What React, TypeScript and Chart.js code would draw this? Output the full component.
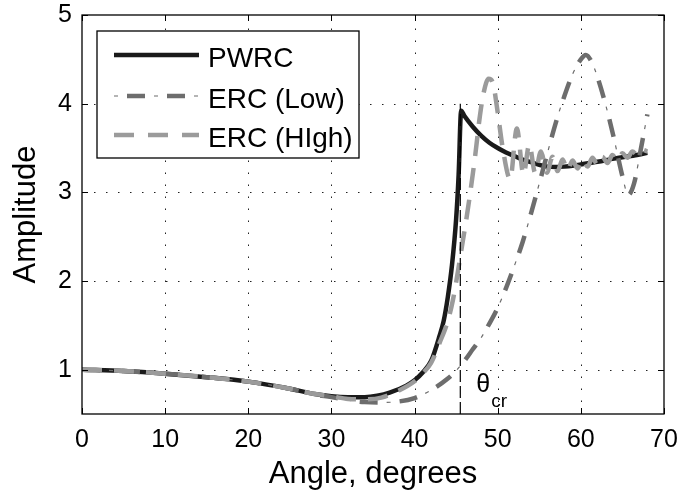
import { useEffect, useRef } from 'react';
import { Chart, registerables } from 'chart.js';

Chart.register(...registerables);

const FONT = '"Liberation Sans", Arial, Helvetica, sans-serif';

// Plane-wave reflection coefficient (solid black)
const pwrcAngle = [0, 5, 10, 15, 20, 25, 28, 30, 32, 34, 35.5, 37, 39, 40, 41, 42, 43, 43.5, 44, 44.5, 45, 45.3, 45.6, 46, 47, 48, 49, 50, 51, 52, 53, 54, 55, 56, 57, 58, 59, 60, 62, 64, 66, 68];
const pwrcAmp = [1.0, 0.985, 0.955, 0.915, 0.865, 0.785, 0.725, 0.7, 0.69, 0.69, 0.705, 0.74, 0.82, 0.88, 0.97, 1.1, 1.38, 1.55, 1.82, 2.18, 2.7, 3.2, 3.92, 3.86, 3.74, 3.64, 3.56, 3.5, 3.45, 3.41, 3.37, 3.34, 3.31, 3.29, 3.285, 3.29, 3.3, 3.315, 3.345, 3.38, 3.41, 3.445];

// Effective reflection coefficient, low frequency (dash-dot, dark grey)
const ercLowAngle = [0, 5, 10, 15, 20, 25, 28, 30, 32, 34, 36, 38, 40, 42, 44, 45, 46, 47, 48, 49, 50, 51, 52, 53, 54, 55, 56, 57, 58, 59, 60, 60.6, 61.3, 62, 63, 64, 65, 65.7, 66.4, 67.2, 68];
const ercLowAmp = [1.0, 0.985, 0.955, 0.915, 0.865, 0.785, 0.72, 0.69, 0.655, 0.635, 0.63, 0.64, 0.68, 0.77, 0.9, 0.99, 1.1, 1.23, 1.36, 1.52, 1.7, 1.92, 2.17, 2.44, 2.76, 3.1, 3.45, 3.79, 4.08, 4.33, 4.5, 4.55, 4.47, 4.3, 3.98, 3.6, 3.18, 2.97, 3.1, 3.48, 3.88];

// Effective reflection coefficient, high frequency (dashed, light grey)
const ercHighAngle = [0, 5, 10, 15, 20, 25, 28, 30, 32, 34, 36, 38, 40, 41, 42, 43, 44, 44.6, 45.2, 45.8, 46.2, 46.7, 47.3, 47.8, 48.3, 48.9, 49.4, 50, 50.6, 51.5, 52.3, 53.1, 53.8, 54.5, 55.2, 55.9, 56.6, 57.2, 57.8, 58.4, 59, 59.6, 60.2, 60.8, 61.4, 62, 62.6, 63.2, 63.8, 64.4, 65, 65.6, 66.2, 66.8, 67.4, 68];
const ercHighAmp = [1.0, 0.985, 0.955, 0.915, 0.865, 0.785, 0.725, 0.7, 0.67, 0.665, 0.685, 0.76, 0.87, 0.96, 1.08, 1.3, 1.55, 1.78, 2.1, 2.45, 2.68, 3.0, 3.42, 3.82, 4.12, 4.28, 4.24, 3.9, 3.5, 3.15, 3.72, 3.2, 3.54, 3.22, 3.46, 3.22, 3.4, 3.24, 3.37, 3.25, 3.36, 3.27, 3.37, 3.29, 3.39, 3.31, 3.4, 3.33, 3.42, 3.36, 3.44, 3.39, 3.46, 3.42, 3.48, 3.46];

// Critical angle marker
const criticalAngle = 45.5;
const criticalTop = 4;

const xTicks = [0, 10, 20, 30, 40, 50, 60, 70];
const yTicks = [1, 2, 3, 4, 5];

const seriesNames = ['PWRC', 'ERC (Low)', 'ERC (HIgh)'];

const BLACK = '#1a1a1a';
const DARK_GREY = '#6d6d6d';
const LIGHT_GREY = '#9b9b9b';

const LOW_DASH = [18, 22];
const LOW_DOT = [4, 36];
const LOW_DOT_OFFSET = 13;
const HIGH_DASH = [20, 12];

const toPoints = (xs: number[], ys: number[]) => xs.map((x, i) => ({ x, y: ys[i] }));

const frameAndDecor = {
  id: 'frameAndDecor',
  beforeDatasetsDraw(chart: any) {
    const { ctx, chartArea: a, scales } = chart;
    const xs = scales.x;
    const ys = scales.y;
    ctx.save();
    ctx.strokeStyle = '#222';
    ctx.lineWidth = 1;
    ctx.setLineDash([1.5, 10.5]);
    xTicks.forEach((v) => {
      const px = Math.round(xs.getPixelForValue(v)) + 0.5;
      if (v === xs.min || v === xs.max) return;
      ctx.beginPath();
      ctx.moveTo(px, a.bottom);
      ctx.lineTo(px, a.top);
      ctx.stroke();
    });
    yTicks.forEach((v) => {
      const py = Math.round(ys.getPixelForValue(v)) + 0.5;
      if (v === ys.max) return;
      ctx.beginPath();
      ctx.moveTo(a.left, py);
      ctx.lineTo(a.right, py);
      ctx.stroke();
    });
    ctx.restore();
  },
  afterDatasetsDraw(chart: any) {
    const { ctx, chartArea: a, scales } = chart;
    const xs = scales.x;
    const ys = scales.y;
    ctx.save();
    ctx.setLineDash([]);
    ctx.strokeStyle = '#000';
    ctx.lineWidth = 1.3;
    ctx.strokeRect(a.left, a.top, a.right - a.left, a.bottom - a.top);

    // inward tick marks on all four sides
    const tl = 6;
    ctx.lineWidth = 1;
    xTicks.forEach((v) => {
      const px = Math.round(xs.getPixelForValue(v)) + 0.5;
      ctx.beginPath();
      ctx.moveTo(px, a.bottom);
      ctx.lineTo(px, a.bottom - tl);
      ctx.moveTo(px, a.top);
      ctx.lineTo(px, a.top + tl);
      ctx.stroke();
    });
    yTicks.forEach((v) => {
      const py = Math.round(ys.getPixelForValue(v)) + 0.5;
      ctx.beginPath();
      ctx.moveTo(a.left, py);
      ctx.lineTo(a.left + tl, py);
      ctx.moveTo(a.right, py);
      ctx.lineTo(a.right - tl, py);
      ctx.stroke();
    });

    // critical angle label
    const cx = xs.getPixelForValue(criticalAngle);
    const cy = ys.getPixelForValue(1);
    ctx.fillStyle = '#000';
    ctx.textBaseline = 'alphabetic';
    ctx.textAlign = 'left';
    ctx.font = `25px ${FONT}`;
    ctx.fillText('θ', cx + 16, cy + 22);
    ctx.font = `19px ${FONT}`;
    ctx.fillText('cr', cx + 31, cy + 37);

    // legend box
    const bx = a.left + 15;
    const by = a.top + 16;
    const bw = 262;
    const bh = 127;
    ctx.fillStyle = '#fff';
    ctx.fillRect(bx, by, bw, bh);
    ctx.strokeStyle = '#000';
    ctx.lineWidth = 1.3;
    ctx.strokeRect(bx, by, bw, bh);

    const lx0 = bx + 17;
    const lx1 = bx + 102;
    const rows = [by + 24, by + 65, by + 104];
    ctx.lineCap = 'butt';

    // PWRC sample
    ctx.strokeStyle = BLACK;
    ctx.lineWidth = 4.5;
    ctx.beginPath();
    ctx.moveTo(lx0, rows[0]);
    ctx.lineTo(lx1, rows[0]);
    ctx.stroke();

    // ERC (Low) sample
    ctx.strokeStyle = DARK_GREY;
    ctx.setLineDash(LOW_DOT);
    ctx.lineDashOffset = 0;
    ctx.lineWidth = 1.2;
    ctx.beginPath();
    ctx.moveTo(lx0, rows[1]);
    ctx.lineTo(lx1, rows[1]);
    ctx.stroke();
    ctx.setLineDash(LOW_DASH);
    ctx.lineDashOffset = -13;
    ctx.lineWidth = 4.5;
    ctx.beginPath();
    ctx.moveTo(lx0, rows[1]);
    ctx.lineTo(lx1, rows[1]);
    ctx.stroke();

    // ERC (HIgh) sample
    ctx.strokeStyle = LIGHT_GREY;
    ctx.setLineDash([20, 14]);
    ctx.lineDashOffset = 0;
    ctx.beginPath();
    ctx.moveTo(lx0, rows[2]);
    ctx.lineTo(lx1, rows[2]);
    ctx.stroke();

    ctx.setLineDash([]);
    ctx.fillStyle = '#000';
    ctx.font = `28px ${FONT}`;
    ctx.textBaseline = 'alphabetic';
    seriesNames.forEach((name, i) => {
      ctx.fillText(name, bx + 111, rows[i] + 12);
    });
    ctx.restore();
  },
};

export default function App() {
  const canvasRef = useRef<HTMLCanvasElement | null>(null);

  useEffect(() => {
    const canvas = canvasRef.current;
    if (!canvas) return;

    const lineCommon = {
      pointRadius: 0,
      fill: false,
      tension: 0.4,
      cubicInterpolationMode: 'monotone' as const,
      borderCapStyle: 'butt' as const,
    };

    const chart = new Chart(canvas, {
      type: 'line',
      data: {
        datasets: [
          {
            ...lineCommon,
            label: seriesNames[0],
            data: toPoints(pwrcAngle, pwrcAmp),
            borderColor: BLACK,
            borderWidth: 4.5,
            order: 3,
          },
          {
            ...lineCommon,
            label: seriesNames[1],
            data: toPoints(ercLowAngle, ercLowAmp),
            borderColor: DARK_GREY,
            borderWidth: 4.5,
            borderDash: LOW_DASH,
            order: 2,
          },
          {
            ...lineCommon,
            label: seriesNames[1] + ' dots',
            data: toPoints(ercLowAngle, ercLowAmp),
            borderColor: DARK_GREY,
            borderWidth: 1.2,
            borderDash: LOW_DOT,
            borderDashOffset: LOW_DOT_OFFSET,
            order: 2,
          },
          {
            ...lineCommon,
            label: seriesNames[2],
            data: toPoints(ercHighAngle, ercHighAmp),
            borderColor: LIGHT_GREY,
            borderWidth: 4.5,
            borderDash: HIGH_DASH,
            order: 1,
          },
          {
            label: 'critical',
            data: [
              { x: criticalAngle, y: 0.5 },
              { x: criticalAngle, y: criticalTop },
            ],
            borderColor: '#000',
            borderWidth: 1.2,
            borderDash: [12, 4],
            pointRadius: 0,
            tension: 0,
            order: 0,
          },
        ],
      },
      options: {
        animation: false,
        responsive: false,
        devicePixelRatio: 1,
        layout: { padding: { top: 15, right: 14, left: 0, bottom: 0 } },
        plugins: {
          legend: { display: false },
          tooltip: { enabled: false },
        },
        scales: {
          x: {
            type: 'linear',
            min: 0,
            max: 70,
            afterBuildTicks: (s: any) => {
              s.ticks = xTicks.map((v) => ({ value: v }));
            },
            afterFit: (s: any) => {
              s.height = 84;
              s.paddingLeft = 0;
              s.paddingRight = 0;
            },
            grid: { display: false, drawTicks: false },
            border: { display: false },
            ticks: {
              color: '#000',
              padding: 11,
              maxRotation: 0,
              autoSkip: false,
              font: { family: FONT, size: 25 },
            },
            title: {
              display: true,
              text: 'Angle, degrees',
              color: '#000',
              font: { family: FONT, size: 31 },
              padding: { top: 0, bottom: 5 },
            },
          },
          y: {
            type: 'linear',
            min: 0.5,
            max: 5,
            afterBuildTicks: (s: any) => {
              s.ticks = yTicks.map((v) => ({ value: v }));
            },
            afterFit: (s: any) => {
              s.width = 82;
              s.paddingTop = 0;
              s.paddingBottom = 0;
            },
            grid: { display: false, drawTicks: false },
            border: { display: false },
            ticks: {
              color: '#000',
              padding: 10,
              autoSkip: false,
              font: { family: FONT, size: 25 },
            },
            title: {
              display: true,
              text: 'Amplitude',
              color: '#000',
              font: { family: FONT, size: 31 },
              padding: { top: 8, bottom: 0 },
            },
          },
        },
      },
      plugins: [frameAndDecor],
    });

    return () => chart.destroy();
  }, []);

  return (
    <div style={{ position: 'fixed', left: 0, top: 0, width: 678, height: 498, background: '#fff' }}>
      <canvas ref={canvasRef} width={678} height={498} style={{ display: 'block' }} />
    </div>
  );
}
